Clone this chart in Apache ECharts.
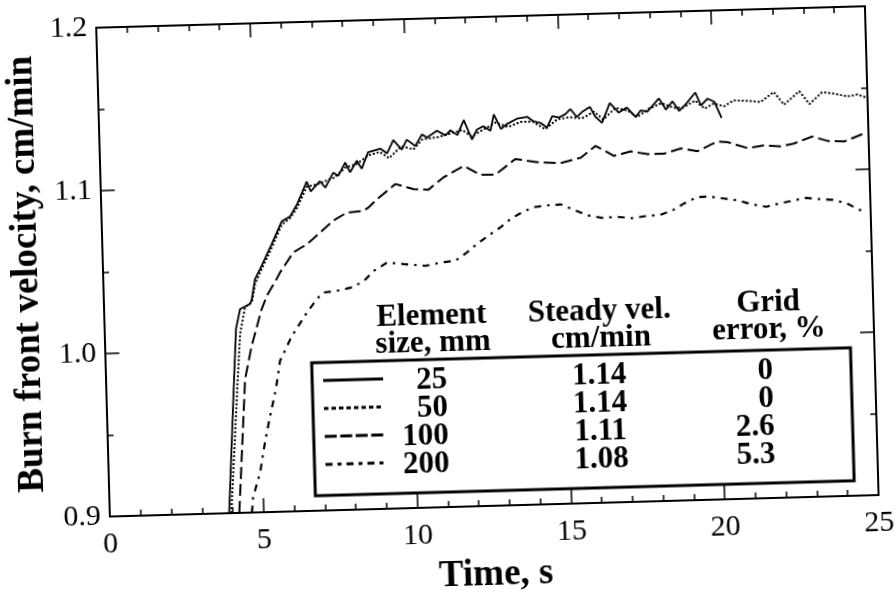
<!DOCTYPE html>
<html>
<head>
<meta charset="utf-8">
<script src="https://cdn.jsdelivr.net/npm/echarts@6/dist/echarts.min.js"></script>
<style>
html,body{margin:0;padding:0;background:#fff;}
#wrap{width:896px;height:603px;overflow:hidden;background:#fff;}
#chart{width:896px;height:603px;transform:rotate(-1.6deg);transform-origin:448px 301.5px;}
</style>
</head>
<body>
<div id="wrap"><div id="chart"></div></div>
<script>
// ---- data (time s, burn front velocity cm/min) ----
const curve25 = [[3.88,0.900],[4.16,0.982],[4.27,1.013],[4.42,1.025],[4.75,1.028],[4.81,1.031],[4.93,1.043],[5.10,1.049],[5.50,1.064],[5.85,1.078],[6.13,1.081],[6.36,1.088],[6.70,1.102],[6.82,1.096],[7.13,1.102],[7.30,1.098],[7.57,1.107],[7.73,1.105],[7.97,1.113],[8.12,1.107],[8.35,1.114],[8.50,1.109],[8.72,1.119],[9.12,1.121],[9.34,1.118],[9.55,1.126],[9.82,1.120],[9.99,1.126],[10.26,1.122],[10.49,1.129],[10.65,1.127],[10.98,1.131],[11.25,1.128],[11.42,1.131],[11.64,1.128],[11.86,1.137],[12.11,1.125],[12.28,1.131],[12.49,1.133],[12.72,1.130],[12.84,1.140],[13.06,1.131],[13.27,1.134],[13.59,1.137],[13.92,1.138],[14.13,1.135],[14.35,1.134],[14.56,1.131],[14.74,1.138],[14.95,1.137],[15.17,1.139],[15.33,1.142],[15.54,1.137],[15.71,1.140],[15.97,1.143],[16.13,1.137],[16.35,1.133],[16.62,1.145],[16.90,1.139],[17.17,1.142],[17.45,1.136],[17.62,1.140],[17.83,1.139],[18.22,1.147],[18.44,1.140],[18.66,1.145],[18.87,1.139],[19.09,1.143],[19.41,1.150],[19.58,1.142],[19.80,1.146],[20.02,1.144],[20.24,1.134]];
const curve50 = [[3.95,0.900],[4.28,0.982],[4.40,1.010],[4.58,1.026],[4.81,1.029],[4.93,1.040],[5.10,1.047],[5.50,1.062],[5.85,1.076],[6.13,1.080],[6.36,1.086],[6.70,1.099],[7.00,1.100],[7.30,1.102],[7.60,1.104],[7.97,1.110],[8.35,1.112],[8.72,1.117],[9.10,1.119],[9.40,1.115],[9.80,1.122],[10.20,1.120],[10.50,1.126],[11.00,1.127],[11.40,1.129],[11.80,1.131],[12.10,1.127],[12.50,1.131],[12.90,1.135],[13.30,1.132],[13.70,1.135],[14.10,1.135],[14.50,1.130],[14.90,1.136],[15.30,1.137],[15.70,1.136],[16.10,1.140],[16.40,1.135],[16.80,1.142],[17.20,1.140],[17.50,1.136],[17.90,1.141],[18.30,1.144],[18.70,1.141],[19.00,1.141],[19.40,1.145],[19.70,1.140],[20.00,1.143],[20.33,1.141],[20.65,1.1445],[21.09,1.144],[21.52,1.143],[21.96,1.149],[22.28,1.141],[22.79,1.149],[23.11,1.141],[23.53,1.148],[23.91,1.147],[24.35,1.145],[24.68,1.146],[24.95,1.144]];
const curve100 = [[4.21,0.900],[4.52,0.982],[4.76,1.002],[5.12,1.0245],[5.30,1.0326],[5.64,1.043],[5.75,1.0467],[6.20,1.0588],[6.65,1.0636],[7.09,1.0705],[7.52,1.0775],[7.97,1.0823],[8.52,1.0831],[8.68,1.085],[8.97,1.090],[9.58,1.099],[10.17,1.0956],[10.65,1.095],[11.15,1.1023],[11.82,1.109],[12.35,1.1032],[12.84,1.103],[13.50,1.1123],[14.21,1.110],[14.97,1.109],[15.63,1.112],[16.12,1.119],[16.71,1.1125],[17.26,1.115],[17.80,1.113],[18.34,1.113],[18.89,1.116],[19.43,1.114],[20.08,1.1196],[20.41,1.119],[21.06,1.115],[21.60,1.1164],[22.14,1.1155],[22.57,1.117],[23.17,1.121],[23.67,1.118],[24.21,1.1175],[24.86,1.122]];
const curve200 = [[4.62,0.900],[4.67,0.909],[4.93,0.925],[5.11,0.943],[5.30,0.959],[5.52,0.976],[5.67,0.9925],[6.08,1.0076],[6.59,1.0217],[6.93,1.030],[7.14,1.0337],[7.58,1.0345],[8.13,1.0366],[8.52,1.041],[8.79,1.046],[9.24,1.051],[9.78,1.0498],[10.48,1.0483],[10.97,1.050],[11.46,1.051],[11.85,1.0559],[12.19,1.061],[12.57,1.066],[12.96,1.0707],[13.29,1.0756],[13.68,1.0796],[14.06,1.0825],[14.55,1.0834],[14.93,1.0837],[15.37,1.080],[15.81,1.0765],[16.25,1.0748],[16.79,1.075],[17.23,1.074],[17.67,1.075],[18.16,1.0756],[18.55,1.078],[18.93,1.082],[19.37,1.0857],[19.75,1.086],[20.24,1.0845],[20.73,1.083],[21.12,1.0806],[21.61,1.0787],[22.04,1.0805],[22.48,1.082],[22.91,1.0835],[23.35,1.0825],[23.79,1.0818],[24.23,1.0794],[24.72,1.0745]];

// ---- table ----
const elementSizes = ['25','50','100','200'];
const steadyVel = ['1.14','1.14','1.11','1.08'];
const gridError = ['0','0','2.6','5.3'];
const headerCol1 = ['Element','size, mm'];
const headerCol2 = ['Steady vel.','cm/min'];
const headerCol3 = ['Grid','error, %'];

// ---- axes ----
const xTicks = {min:0, max:25, interval:5};
const yTicks = {min:0.9, max:1.2, interval:0.1};
const xTitle = 'Time, s';
const yTitle = 'Burn front velocity, cm/min';

const curves = [curve25, curve50, curve100, curve200];
const plotDashes = ['solid', [2,2], [12,5], [7,6,2.5,6]];
const plotWidths = [1.8, 2, 2, 2.2];
const legendDashes = [null, [4.5,3], [12,3.5], [7,5,4,5]];

const SERIF = '"Liberation Serif", "Times New Roman", serif';
const chart = echarts.init(document.getElementById('chart'), null, {renderer:'canvas'});

function axisCommon(showLabel){
  return {
    axisLine:{show:true, onZero:false, lineStyle:{color:'#000', width:2}},
    axisTick:{show:true, inside:true, length:14, lineStyle:{color:'#000', width:1.5}},
    minorTick:{show:true, length:6, lineStyle:{color:'#000', width:1.5}},
    splitLine:{show:false},
    axisLabel:{show:showLabel, fontSize:30, fontFamily:SERIF, color:'#000'}
  };
}

const xMain = Object.assign({type:'value', position:'bottom'}, xTicks, axisCommon(true));
xMain.minorTick.splitNumber = 5;
xMain.axisLabel.margin = 13;
xMain.name = xTitle; xMain.nameLocation = 'middle'; xMain.nameGap = 51;
xMain.nameTextStyle = {fontSize:37, fontWeight:'bold', fontFamily:SERIF, color:'#000'};
const xTop = Object.assign({type:'value', position:'top'}, xTicks, axisCommon(false));
xTop.minorTick.splitNumber = 5;

const yMain = Object.assign({type:'value', position:'left'}, yTicks, axisCommon(true));
yMain.minorTick.splitNumber = 2;
yMain.axisLabel.margin = 9;
yMain.axisLabel.formatter = v => v.toFixed(1);
yMain.name = yTitle; yMain.nameLocation = 'middle'; yMain.nameGap = 48;
yMain.nameTextStyle = {fontSize:37, fontWeight:'bold', fontFamily:SERIF, color:'#000'};
const yRight = Object.assign({type:'value', position:'right'}, yTicks, axisCommon(false));
yRight.minorTick.splitNumber = 2;

// ---- legend table as graphic ----
const boxL = 310, boxT = 359, boxW = 539, boxH = 133;
const rowY = [380, 408, 436, 464];
const font = 'bold 31px ' + SERIF;
const g = [];
g.push({type:'rect', shape:{x:boxL, y:boxT, width:boxW, height:boxH}, style:{fill:'#fff', stroke:'#000', lineWidth:3}, z:10});
function txt(t, x, y, align){
  g.push({type:'text', x:x, y:y, z:11, style:{text:t, font:font, fill:'#000', align:align, verticalAlign:'middle', textAlign:align, textVerticalAlign:'middle'}});
}
txt(headerCol1[0], 431, 316, 'center'); txt(headerCol1[1], 432, 343, 'center');
txt(headerCol2[0], 599, 316, 'center'); txt(headerCol2[1], 600, 343, 'center');
txt(headerCol3[0], 768, 312, 'center'); txt(headerCol3[1], 768, 339, 'center');
for (let i = 0; i < 4; i++){
  txt(elementSizes[i], 445, rowY[i], 'right');
  txt(steadyVel[i], 597, rowY[i], 'center');
  txt(gridError[i], 771, rowY[i], 'right');
  g.push({type:'line', z:11, shape:{x1:321, y1:rowY[i]-3, x2:381, y2:rowY[i]-3},
    style:{stroke:'#000', lineWidth:3, lineDash: legendDashes[i]}});
}

chart.setOption({
  animation:false,
  backgroundColor:'#fff',
  grid:{left:104, top:18, width:769, height:489, containLabel:false},
  xAxis:[xMain, xTop],
  yAxis:[yMain, yRight],
  series: curves.map((c,i)=>({
    type:'line', name:elementSizes[i], xAxisIndex:0, yAxisIndex:0, data:c,
    showSymbol:false, symbol:'none', smooth:false, clip:true,
    lineStyle:{color:'#000', width:plotWidths[i], type:plotDashes[i]}
  })),
  graphic:g
});
</script>
</body>
</html>
